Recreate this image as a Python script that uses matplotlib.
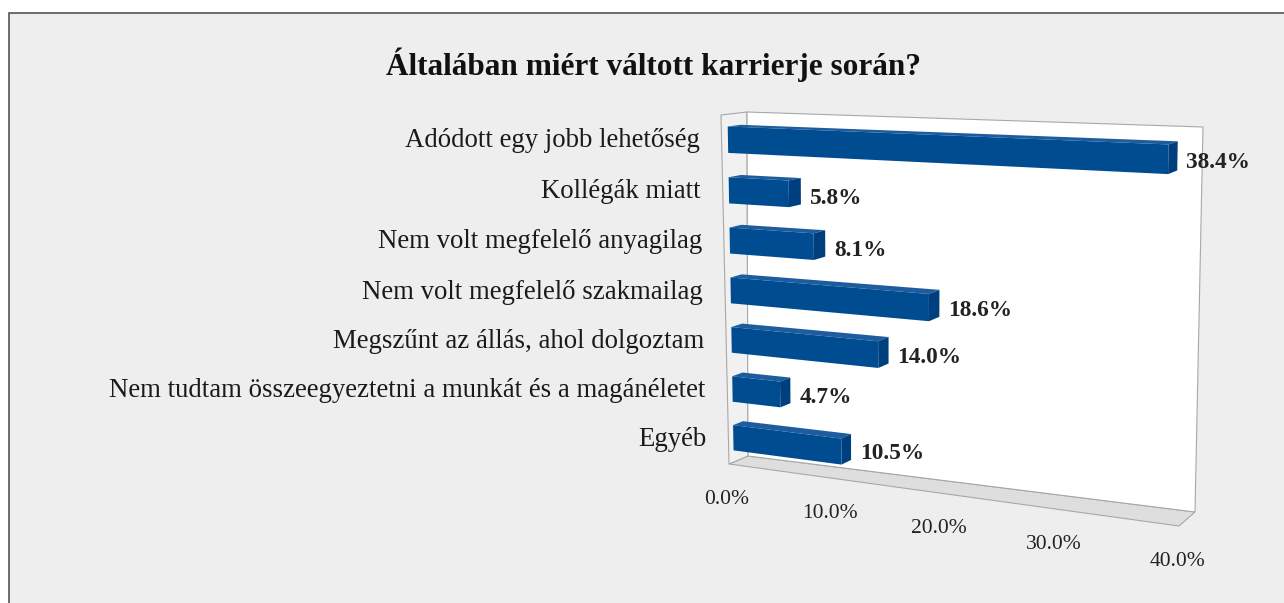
import numpy as np
import matplotlib
matplotlib.use("Agg")
import matplotlib.pyplot as plt
from matplotlib.patches import Rectangle
from matplotlib.transforms import Transform, Affine2D

# data
title = "Általában miért váltott karrierje során?"
categories = [
    "Adódott egy jobb lehetőség",
    "Kollégák miatt",
    "Nem volt megfelelő anyagilag",
    "Nem volt megfelelő szakmailag",
    "Megszűnt az állás, ahol dolgoztam",
    "Nem tudtam összeegyeztetni a munkát és a magánéletet",
    "Egyéb",
]
values = [38.4, 5.8, 8.1, 18.6, 14.0, 4.7, 10.5]
ticks = [0, 10, 20, 30, 40]

W, H = 1284, 603
XMAX = 40.0
NCAT = len(categories)

# pseudo-3d box: corners (in pixels, y down) of the front plane and back wall
# order: (u=0,v=0), (1,0), (1,1), (0,1)
front_quad = [(729, 464), (1179, 526), (1185, 133), (721, 115)]
back_quad = [(748, 456), (1195, 512), (1203, 127), (747, 112)]


def homography(quad):
    src = [(0, 0), (1, 0), (1, 1), (0, 1)]
    A, b = [], []
    for (x, y), (X, Y) in zip(src, quad):
        A.append([x, y, 1, 0, 0, 0, -X * x, -X * y])
        A.append([0, 0, 0, x, y, 1, -Y * x, -Y * y])
        b += [X, Y]
    h = np.linalg.solve(np.array(A, float), np.array(b, float))
    return np.append(h, 1).reshape(3, 3)


HF = homography(front_quad)
HB = homography(back_quad)


def apply_h(Hm, u, v):
    p = Hm @ np.vstack([u, v, np.ones_like(u)])
    return p[:2] / p[2]


def project(u, v, t):
    pf = apply_h(HF, u, v)
    pb = apply_h(HB, u, v)
    return ((1 - t) * pf + t * pb).T


class Box3D(Transform):
    input_dims = output_dims = 2

    def __init__(self, plane, const):
        super().__init__()
        self.plane = plane
        self.const = const

    def transform_non_affine(self, pts):
        pts = np.atleast_2d(np.asarray(pts, float))
        a, b = pts[:, 0], pts[:, 1]
        c = np.full_like(a, self.const)
        if self.plane == "xv":
            return project(a / XMAX, b / NCAT, c)
        if self.plane == "xt":
            return project(a / XMAX, c / NCAT, b)
        return project(c / XMAX, a / NCAT, b)  # "vt"


fig = plt.figure(figsize=(W / 100, H / 100), dpi=100)
fig.patch.set_facecolor("white")
to_fig = Affine2D().scale(1 / W, -1 / H).translate(0, 1) + fig.transFigure


def tr(plane, const, dx=0, dy=0):
    return Box3D(plane, const) + Affine2D().translate(dx, dy) + to_fig


ax = fig.add_axes([0, 0, 1, 1])
ax.set_xlim(0, 1)
ax.set_ylim(0, 1)
ax.axis("off")

# chart area background with border
ax.add_patch(Rectangle((9 / W, -0.05), 1.1, 1.05 - 13 / H,
                       transform=fig.transFigure,
                       facecolor="#eeeeee", edgecolor="#555555", lw=1.2))

fontfam = "Liberation Serif"
edge = "#a8a8a8"

# floor, left wall, back wall
ax.add_patch(Rectangle((0, 0), XMAX, 1, transform=tr("xt", 0),
                       facecolor="#dedede", edgecolor=edge, lw=0.8))
ax.add_patch(Rectangle((0, 0), NCAT, 1, transform=tr("vt", 0),
                       facecolor="#f1f1f1", edgecolor=edge, lw=0.8))
ax.add_patch(Rectangle((0, 0), XMAX, NCAT, transform=tr("xv", 1),
                       facecolor="white", edgecolor=edge, lw=0.8))

tf, tb = 0.25, 0.75
bh = 0.52
ypos = [NCAT - 0.5 - i for i in range(NCAT)]
blue = "#004c91"

for y, val in zip(ypos, values):
    top = y + bh / 2
    # top face
    ax.add_patch(Rectangle((0, tf), val, tb - tf, transform=tr("xt", top),
                           facecolor="#1d5c9e", edgecolor="none"))
    # end face
    ax.add_patch(Rectangle((y - bh / 2, tf), bh, tb - tf,
                           transform=tr("vt", val),
                           facecolor="#003f7e", edgecolor="none"))

ax.barh(ypos, values, height=bh, left=0, color=blue,
        transform=tr("xv", tf), zorder=3)

for y, val, cat in zip(ypos, values, categories):
    ax.text(y, tb, f"{val:.1f}%", transform=tr("vt", val, 9, 7),
            ha="left", va="center", fontsize=16.8, fontweight="bold",
            family=fontfam, color="#222222")
    ax.text(0, y, cat, transform=tr("xv", 0, -22, 0), ha="right",
            va="center", fontsize=19.3, family=fontfam, color="#1a1a1a")

for tk in ticks:
    ax.text(tk, 0, f"{tk:.1f}%", transform=tr("xt", 0, -2, 35),
            ha="center", va="center", fontsize=15.5, family=fontfam,
            color="#222222")

fig.text(653 / W, 1 - 65 / H, title, ha="center", va="center",
         fontsize=22.5, fontweight="bold", family=fontfam, color="#111111")

fig.savefig("out.png", dpi=100, facecolor=fig.get_facecolor())
